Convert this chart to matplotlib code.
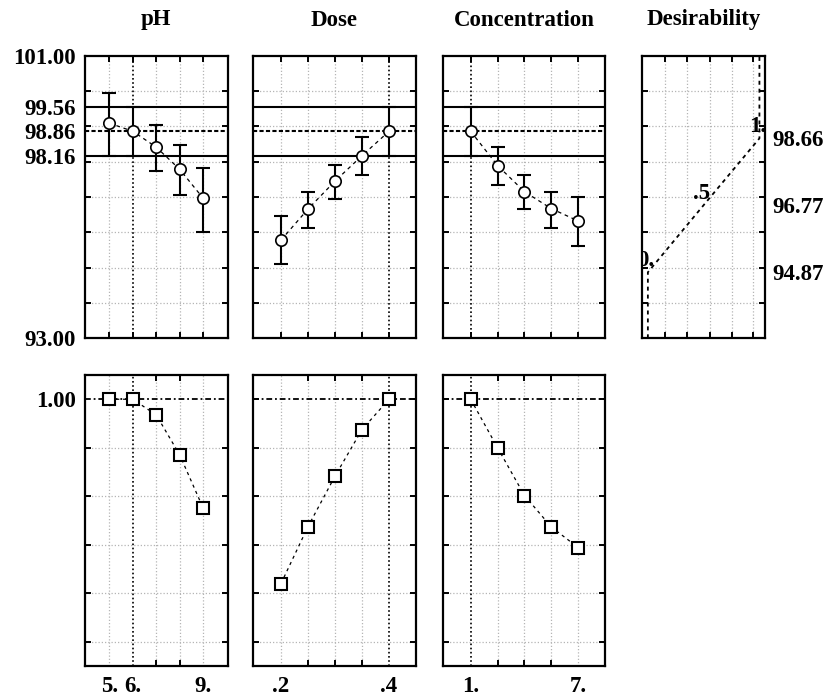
import matplotlib
matplotlib.use("Agg")
import matplotlib.pyplot as plt

# ---- factor levels ----
ph_levels = [5, 6, 7, 8, 9]
dose_levels = [0.20, 0.25, 0.30, 0.35, 0.40]
conc_levels = [1.0, 2.5, 4.0, 5.5, 7.0]

# ---- predicted response with confidence limits at each level ----
ph_pred = [99.09, 98.86, 98.41, 97.78, 96.96]
ph_lo = [98.15, 98.16, 97.73, 97.05, 96.01]
ph_hi = [99.94, 99.56, 99.05, 98.46, 97.83]

dose_pred = [95.78, 96.66, 97.45, 98.17, 98.86]
dose_lo = [95.09, 96.13, 96.95, 97.63, 98.16]
dose_hi = [96.46, 97.14, 97.91, 98.70, 99.56]

conc_pred = [98.86, 97.89, 97.15, 96.67, 96.32]
conc_lo = [98.16, 97.33, 96.65, 96.12, 95.62]
conc_hi = [99.56, 98.41, 97.62, 97.14, 97.00]

# ---- desirability at each level ----
ph_desir = [1.0, 1.0, 0.935, 0.77, 0.55]
dose_desir = [0.24, 0.475, 0.683, 0.875, 1.0]
conc_desir = [1.0, 0.80, 0.603, 0.473, 0.388]

# ---- current settings and prediction ----
current_settings = [6, 0.40, 1.0]
current_pred = 98.86
current_lo = 98.16
current_hi = 99.56

# ---- desirability function (desirability -> response) ----
desir_values = [0.0, 0.5, 1.0]
desir_response = [94.87, 96.77, 98.66]
desir_text = ["0.", ".5", "1."]

# ---- axis text ----
titles = ["pH", "Dose", "Concentration", "Desirability"]
x_tick_values = [[5, 6, 9], [0.2, 0.4], [1.0, 7.0]]
x_tick_labels = [["5.", "6.", "9."], [".2", ".4"], ["1.", "7."]]
resp_tick_values = [101.00, 99.56, 98.86, 98.16, 93.00]
resp_tick_labels = ["101.00", "99.56", "98.86", "98.16", "93.00"]
resp_limits = (93.0, 101.0)
resp_grid = [94, 95, 96, 97, 98, 99, 100]
desir_grid = [0.0, 0.2, 0.4, 0.6, 0.8]
desir_x_grid = [0.155, 0.355, 0.555, 0.755, 0.945]

levels = [ph_levels, dose_levels, conc_levels]
preds = [ph_pred, dose_pred, conc_pred]
los = [ph_lo, dose_lo, conc_lo]
his = [ph_hi, dose_hi, conc_hi]
desirs = [ph_desir, dose_desir, conc_desir]
x_limits = [(3.965, 10.04), (0.1487, 0.4494), (-0.56, 8.49)]

plt.rcParams["font.family"] = ["Liberation Serif", "DejaVu Serif"]
plt.rcParams["font.weight"] = "bold"
FS = 16.5
GRID_KW = dict(color="#b5b5b5", lw=0.9, ls=(0, (1, 1.6)), zorder=0.5)

W, H = 831, 698
fig = plt.figure(figsize=(W / 100, H / 100), dpi=100)


def add_ax(x0, x1, y0, y1):
    return fig.add_axes([x0 / W, 1 - y1 / H, (x1 - x0) / W, (y1 - y0) / H])


def frame(ax):
    for s in ax.spines.values():
        s.set_linewidth(1.6)
    ax.tick_params(which="both", direction="in", top=True, right=True,
                   bottom=True, left=True, labelsize=FS, width=1.4)
    ax.tick_params(which="minor", length=4.5)
    ax.tick_params(which="major", length=0)
    ax.tick_params(axis="y", pad=6.5)
    ax.tick_params(axis="x", pad=7.5)
    for lab in ax.get_xticklabels() + ax.get_yticklabels():
        lab.set_fontweight("bold")


cols = [(85, 227.7), (253.3, 415.7), (442.7, 605), (642.3, 765)]
top_row = (55.7, 338.3)
bot_row = (375, 666)

for i in range(3):
    x = levels[i]
    # ---- response profile ----
    ax = add_ax(cols[i][0], cols[i][1], *top_row)
    ax.set_xlim(*x_limits[i])
    ax.set_ylim(*resp_limits)
    for g in resp_grid:
        ax.axhline(g, **GRID_KW)
    for xv in x:
        if xv != current_settings[i]:
            ax.axvline(xv, **GRID_KW)
    ax.axvline(current_settings[i], color="k", lw=1.2, ls=(0, (1, 1.5)), zorder=1)
    ax.axhline(current_hi, color="k", lw=1.5, zorder=2)
    ax.axhline(current_lo, color="k", lw=1.5, zorder=2)
    ax.axhline(current_pred, color="k", lw=1.5, ls=(0, (2, 1.1)), zorder=2)
    p, lo, hi = preds[i], los[i], his[i]
    yerr = [[pv - l for pv, l in zip(p, lo)], [h - pv for pv, h in zip(p, hi)]]
    ax.errorbar(x, p, yerr=yerr, fmt="none", ecolor="k", elinewidth=1.5,
                capsize=5, capthick=1.5, zorder=3)
    ax.plot(x, p, color="k", lw=0.9, ls=(0, (3, 3)), zorder=3)
    ax.plot(x, p, "o", mfc="white", mec="k", ms=8.2, mew=1.2, zorder=4)
    ax.set_xticks(x, minor=True)
    ax.set_xticks([])
    ax.set_yticks(resp_grid, minor=True)
    if i == 0:
        ax.set_yticks(resp_tick_values, resp_tick_labels)
    else:
        ax.set_yticks([])
    frame(ax)
    fig.text((cols[i][0] + cols[i][1]) / 2 / W, 1 - 20 / H, titles[i],
             ha="center", va="center", fontsize=FS, fontweight="bold")

    # ---- desirability profile ----
    ax = add_ax(cols[i][0], cols[i][1], *bot_row)
    ax.set_xlim(*x_limits[i])
    ax.set_ylim(-0.1, 1.1)
    for g in desir_grid:
        ax.axhline(g, **GRID_KW)
    for xv in x:
        if xv != current_settings[i]:
            ax.axvline(xv, **GRID_KW)
    ax.axvline(current_settings[i], color="k", lw=1.2, ls=(0, (1, 1.5)), zorder=1)
    ax.axhline(1.0, color="k", lw=1.3, ls=(0, (3.2, 1.6, 1.0, 1.6)), zorder=2)
    ax.plot(x, desirs[i], color="k", lw=0.9, ls=(0, (2.5, 3)), zorder=3)
    ax.plot(x, desirs[i], "s", mfc="white", mec="k", ms=8.6, mew=1.5, zorder=4)
    ax.set_xticks(x, minor=True)
    ax.set_xticks(x_tick_values[i], x_tick_labels[i])
    ax.set_yticks(desir_grid + [1.0], minor=True)
    if i == 0:
        ax.set_yticks([1.0], ["1.00"])
    else:
        ax.set_yticks([])
    frame(ax)

# ---- desirability function panel ----
ax = add_ax(cols[3][0], cols[3][1], *top_row)
ax.set_xlim(-0.05, 1.05)
ax.set_ylim(*resp_limits)
for g in resp_grid:
    ax.axhline(g, **GRID_KW)
for g in desir_x_grid:
    ax.axvline(g, **GRID_KW)
fx = [desir_values[0]] + desir_values + [desir_values[-1]]
fy = [resp_limits[0]] + desir_response + [resp_limits[1]]
ax.plot(fx, fy, color="k", lw=1.3, ls=(0, (2.2, 2.2)), zorder=3)
for dv, rv, t in zip(desir_values, desir_response, desir_text):
    ax.annotate(t, (dv, rv), xytext=(-2, 12), textcoords="offset pixels",
                ha="center", va="center", fontsize=FS, fontweight="bold",
                annotation_clip=False, clip_on=True, zorder=5)
ax.set_xticks(desir_x_grid, minor=True)
ax.set_xticks([])
ax.set_yticks(resp_grid, minor=True)
ax.set_yticks(desir_response, [f"{v:.2f}" for v in desir_response])
frame(ax)
ax.tick_params(axis="y", labelleft=False, labelright=True, pad=5)
fig.text((cols[3][0] + cols[3][1]) / 2 / W, 1 - 20 / H, titles[3],
         ha="center", va="center", fontsize=FS, fontweight="bold")

fig.savefig("out.png", dpi=100)
